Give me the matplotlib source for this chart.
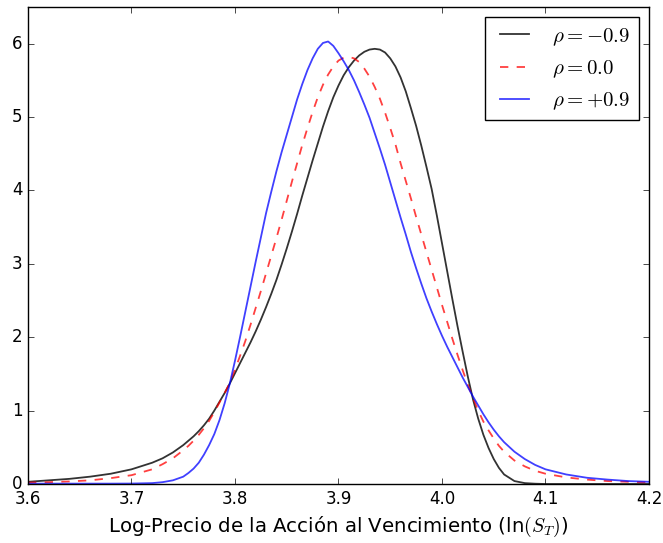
import numpy as np
import matplotlib
matplotlib.use("Agg")
import matplotlib.pyplot as plt

plt.style.use('classic')

# eje x (ln S_T): colas + tramo central cada 0.005
x_izq = [3.60, 3.62, 3.64, 3.66, 3.68, 3.70, 3.72, 3.73, 3.74, 3.75, 3.755]
x_centro = list(np.round(np.arange(3.760, 4.0601, 0.005), 3))
x_der = [4.07, 4.08, 4.09, 4.10, 4.12, 4.14, 4.16, 4.18, 4.20]
x = x_izq + x_centro + x_der

# densidades
dens_neg = ([0.03, 0.05, 0.07, 0.10, 0.14, 0.20, 0.29, 0.35, 0.43, 0.53, 0.59] +
            [0.65, 0.72, 0.80, 0.89, 1.00, 1.12, 1.24, 1.37, 1.51, 1.65,
             1.79, 1.93, 2.08, 2.24, 2.41, 2.59, 2.78, 2.99, 3.21, 3.44,
             3.68, 3.93, 4.17, 4.41, 4.64, 4.87, 5.08, 5.27, 5.43, 5.57,
             5.68, 5.77, 5.84, 5.89, 5.92, 5.93, 5.92, 5.88, 5.80, 5.69,
             5.54, 5.35, 5.12, 4.88, 4.61, 4.32, 4.02, 3.66, 3.28, 2.90,
             2.52, 2.15, 1.80, 1.46, 1.15, 0.89, 0.67, 0.49, 0.34, 0.22,
             0.13] +
            [0.04, 0.012, 0.004, 0.0, 0.0, 0.0, 0.0, 0.0, 0.0])

dens_cero = ([0.02, 0.025, 0.035, 0.05, 0.08, 0.12, 0.20, 0.27, 0.35, 0.46, 0.52] +
             [0.59, 0.67, 0.76, 0.86, 0.98, 1.11, 1.24, 1.38, 1.56, 1.75,
              1.95, 2.17, 2.40, 2.63, 2.87, 3.11, 3.35, 3.60, 3.86, 4.12,
              4.37, 4.62, 4.85, 5.07, 5.27, 5.44, 5.58, 5.69, 5.77, 5.81,
              5.82, 5.80, 5.75, 5.66, 5.55, 5.41, 5.25, 5.06, 4.85, 4.63,
              4.37, 4.13, 3.89, 3.64, 3.40, 3.16, 2.92, 2.68, 2.44, 2.21,
              1.98, 1.76, 1.55, 1.35, 1.17, 1.00, 0.85, 0.73, 0.62, 0.52,
              0.44] +
             [0.32, 0.24, 0.18, 0.14, 0.09, 0.06, 0.04, 0.03, 0.02])

dens_pos = ([0.005, 0.005, 0.005, 0.005, 0.005, 0.006, 0.012, 0.025, 0.05, 0.10, 0.15] +
            [0.21, 0.29, 0.40, 0.53, 0.68, 0.87, 1.10, 1.37, 1.68, 2.01,
             2.35, 2.69, 3.03, 3.36, 3.69, 3.98, 4.26, 4.52, 4.76, 5.00,
             5.24, 5.45, 5.64, 5.80, 5.93, 6.01, 6.03, 5.97, 5.87, 5.76,
             5.64, 5.50, 5.34, 5.17, 4.99, 4.78, 4.57, 4.35, 4.11, 3.87,
             3.63, 3.40, 3.16, 2.94, 2.73, 2.53, 2.35, 2.18, 2.02, 1.87,
             1.73, 1.59, 1.45, 1.32, 1.19, 1.07, 0.95, 0.84, 0.74, 0.65,
             0.57] +
            [0.44, 0.34, 0.26, 0.20, 0.13, 0.085, 0.06, 0.04, 0.03])

fig = plt.figure(figsize=(6.63, 5.43), dpi=100, facecolor='white')
ax = fig.add_axes([28/663, 59/543, 621/663, 477/543])

ax.plot(x, dens_neg, color='k', alpha=0.8, lw=1.3, label=r'$\rho = -0.9$')
ax.plot(x, dens_cero, 'r--', alpha=0.75, lw=1.3, label=r'$\rho = 0.0$')
ax.plot(x, dens_pos, color='b', alpha=0.75, lw=1.3, label=r'$\rho = +0.9$')

ax.set_xlim(3.6, 4.2)
ax.set_ylim(0, 6.5)
ax.set_xticks(np.arange(3.6, 4.21, 0.1))
ax.set_yticks(range(0, 7))
ax.set_xlabel(r'Log-Precio de la Acción al Vencimiento (ln$(S_T)$)', fontsize=14.2)
ax.legend(loc='upper right', fontsize=15)

fig.savefig('out.png', dpi=100, facecolor='white')
